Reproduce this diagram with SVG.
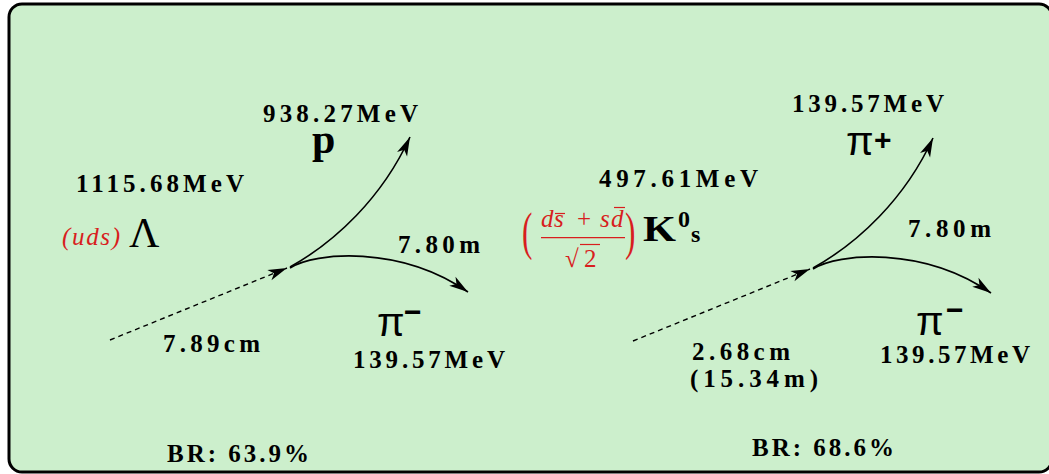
<svg xmlns="http://www.w3.org/2000/svg" width="1049" height="474" viewBox="0 0 1049 474">
<style>
.num{font-family:'Liberation Serif',serif;font-weight:bold;font-size:25px;fill:#000}
.bigb{font-family:'Liberation Serif',serif;font-weight:bold;fill:#000}
.bigr{font-family:'Liberation Serif',serif;fill:#000}
.pi{font-family:'Liberation Sans',sans-serif;font-size:40px;fill:#000}
.sup{font-family:'Liberation Sans',sans-serif;font-weight:bold;font-size:30px;fill:#000}
.red{font-family:'Liberation Serif',serif;font-style:italic;font-size:25px;fill:#d81e1e}
.redu{font-family:'Liberation Serif',serif;font-size:25px;fill:#d81e1e}
.rl{stroke:#d81e1e;stroke-width:1.2;fill:none}
.trk{fill:none;stroke:#000;stroke-width:1.6;marker-end:url(#ah)}
.dash{fill:none;stroke:#000;stroke-width:1.4;stroke-dasharray:5 4;marker-end:url(#ah)}
</style>
<defs>
<marker id="ah" markerUnits="userSpaceOnUse" markerWidth="24" markerHeight="14" refX="20" refY="7" orient="auto" viewBox="0 0 24 14" overflow="visible">
<path d="M20,7 L1,1.5 L6,7 L1,12.5 Z" fill="#000"/>
</marker>
</defs>
<rect id="frame" x="9" y="4" width="1043" height="468" rx="13" ry="13" fill="#ccefcc" stroke="#000" stroke-width="3"/>

<g id="connectors">
<path class="dash" d="M110,340 L287,268"/>
<path class="trk" d="M290,267 C335,242 382,198 410,137"/>
<path class="trk" d="M290,268 C315,252 400,245 468,292"/>
<path class="dash" d="M633,341 L810,269"/>
<path class="trk" d="M813,268 C858,243 905,199 933,138"/>
<path class="trk" d="M813,269 C838,253 923,246 991,293"/>
</g>

<g id="lambda">
<text class="num" x="76" y="192" textLength="168" lengthAdjust="spacing">1115.68MeV</text>
<text class="red" x="62" y="245" textLength="58" lengthAdjust="spacing">(uds)</text>
<text class="bigr" x="129" y="247" style="font-size:42px">Λ</text>
<text class="num" x="163" y="352" textLength="97" lengthAdjust="spacing">7.89cm</text>
<text class="num" x="167" y="462" textLength="142" lengthAdjust="spacing">BR: 63.9%</text>
</g>

<g id="proton">
<text class="num" x="263" y="122" textLength="155" lengthAdjust="spacing">938.27MeV</text>
<text class="bigb" x="312" y="153" style="font-size:42px">p</text>
</g>

<g id="lambda-pion">
<text class="num" x="398" y="253" textLength="82" lengthAdjust="spacing">7.80m</text>
<text class="pi" x="377" y="336">π</text>
<text class="sup" x="404" y="321.5">−</text>
<text class="num" x="353" y="368" textLength="152" lengthAdjust="spacing">139.57MeV</text>
</g>

<g id="kaon">
<text class="num" x="599" y="187" textLength="159" lengthAdjust="spacing">497.61MeV</text>
<text class="redu" transform="translate(522,249) scale(0.6,1)" style="font-size:52px" x="0" y="0">(</text>
<text class="red" y="227"><tspan x="541">d</tspan><tspan x="554">s</tspan></text>
<text class="redu" x="577" y="227">+</text>
<text class="red" y="227"><tspan x="600">s</tspan><tspan x="611">d</tspan></text>
<line class="rl" x1="555" y1="213.5" x2="565" y2="213.5"/>
<line class="rl" x1="614" y1="207.5" x2="625" y2="207.5"/>
<line class="rl" x1="541" y1="237.7" x2="625" y2="237.7"/>
<text class="redu" x="565" y="267">√</text>
<line class="rl" x1="580" y1="244.5" x2="600" y2="244.5"/>
<text class="redu" x="584" y="266.7">2</text>
<text class="redu" transform="translate(625,249) scale(0.6,1)" style="font-size:52px" x="0" y="0">)</text>
<text class="bigb" x="643" y="241" style="font-size:35px" textLength="33" lengthAdjust="spacingAndGlyphs">K</text>
<text class="bigb" x="678" y="226.5" style="font-size:24px">0</text>
<text class="bigb" x="691" y="241.5" style="font-size:24px">s</text>
<text class="num" x="692" y="360" textLength="98" lengthAdjust="spacing">2.68cm</text>
<text class="num" x="690" y="387" textLength="128" lengthAdjust="spacing">(15.34m)</text>
<text class="num" x="752" y="456" textLength="142" lengthAdjust="spacing">BR: 68.6%</text>
</g>

<g id="pion-plus">
<text class="num" x="792" y="112" textLength="152" lengthAdjust="spacing">139.57MeV</text>
<text class="pi" x="846" y="155">π</text>
<text class="sup" x="874" y="150">+</text>
</g>

<g id="kaon-pion-minus">
<text class="num" x="908" y="237" textLength="83" lengthAdjust="spacing">7.80m</text>
<text class="pi" x="916" y="335">π</text>
<text class="sup" x="946" y="319.5">−</text>
<text class="num" x="880" y="363" textLength="150" lengthAdjust="spacing">139.57MeV</text>
</g>
</svg>
